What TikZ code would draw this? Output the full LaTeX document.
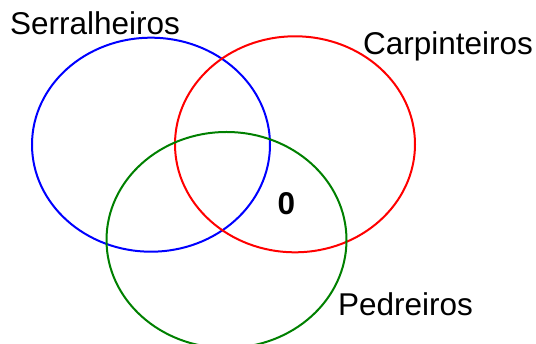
\documentclass[tikz,border=0pt]{standalone}
\usepackage{fontspec}
\setmainfont{Liberation Sans}
\begin{document}
\begin{tikzpicture}[x=1pt,y=-1pt,
  setring/.style={line width=2pt},
  lbl/.style={anchor=base west,inner sep=0pt,font=\fontsize{31.5}{36}\selectfont}]
\useasboundingbox (0,0) rectangle (536,344);
\begin{scope}
\clip (0,0) rectangle (536,344);
\draw[setring,blue] (151,144.7) ellipse [x radius=119, y radius=107];
\draw[setring,red] (295,144.3) ellipse [x radius=120, y radius=108];
\draw[setring,green!50!black] (226.5,240) ellipse [x radius=120, y radius=108];
\end{scope}
\node[lbl] (s) at (10,35) {Serralheiros};
\node[lbl] (c) at (363,55) {Carpinteiros};
\node[lbl] (p) at (338,316) {Pedreiros};
\node[inner sep=0pt,font=\fontsize{31.5}{36}\selectfont\bfseries] (z) at (286.5,204) {0};
\end{tikzpicture}
\end{document}
